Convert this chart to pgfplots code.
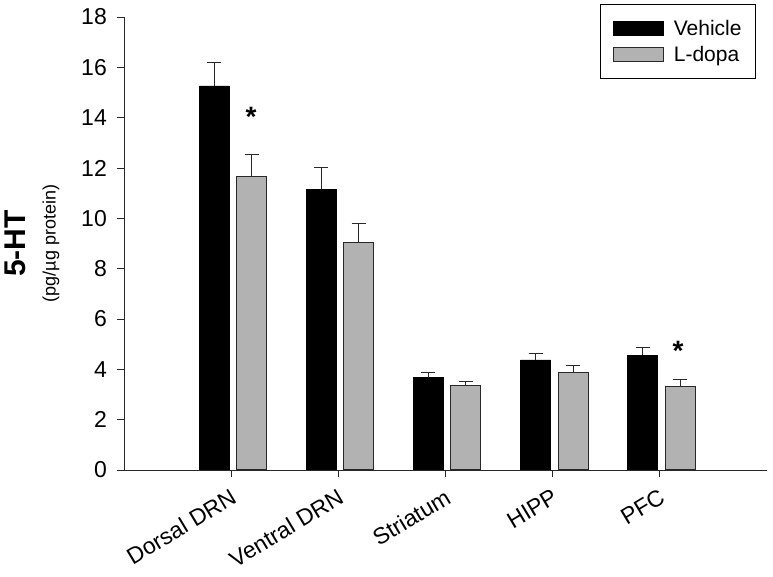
\documentclass[border=0pt]{standalone}
\usepackage{pgfplots}
\pgfplotsset{compat=1.18}
\usepackage{fontspec}
\setmainfont{Liberation Sans}
\definecolor{barg}{RGB}{178,178,178}
\definecolor{axc}{RGB}{40,40,40}
\begin{document}
\begin{tikzpicture}
\begin{axis}[
  scale only axis, width=643pt, height=453pt,
  xmin=-1, xmax=5, ymin=0, ymax=18,
  axis x line*=bottom, axis y line*=left,
  xtick={0,1,2,3,4},
  xticklabels={Dorsal DRN, Ventral DRN, Striatum, HIPP, PFC},
  ytick={0,2,...,18},
  tick align=outside, major tick length=7pt,
  /pgf/number format/assume math mode=true,
  x tick label style={xshift=-1pt, yshift=-8pt, rotate=31, anchor=north east, font=\fontsize{23}{26}\selectfont, inner sep=2pt},
  y tick label style={font=\fontsize{23}{26}\selectfont, inner sep=2pt},
  yticklabel shift=8pt,
  tick style={axc, line width=0.9pt},
  axis line style={axc, line width=0.9pt},
  ylabel={{\fontsize{30}{32}\selectfont\bfseries 5-HT}\\[16pt]{\fontsize{18}{20}\selectfont (pg/µg protein)}},
  ylabel style={align=center, at={([xshift=-92pt]axis description cs:0,0.5)}, anchor=center},
  legend style={at={(0.983,1.029)}, anchor=north east, draw=black, line width=1pt,
    font=\fontsize{21}{24}\selectfont, cells={anchor=west}, inner xsep=12pt, inner ysep=14pt,
    row sep=5pt, column sep=8pt},
  legend image code/.code={\draw[#1, line width=1pt] (0pt,-7pt) rectangle (50pt,7pt);},
  error bars/y dir=plus, error bars/y explicit,
  error bars/error bar style={axc, line width=1pt},
  error bars/error mark options={rotate=90, mark size=7pt, line width=1pt, axc},
]
\addplot[ybar, bar width=30pt, bar shift=0pt, fill=black, draw=black] coordinates {
  (-0.16,15.26) +- (0,0.92)
  (0.84,11.16) +- (0,0.87)
  (1.84,3.67) +- (0,0.20)
  (2.84,4.38) +- (0,0.23)
  (3.84,4.56) +- (0,0.30)
};
\addlegendentry{Vehicle}
\addplot[ybar, bar width=30pt, bar shift=0pt, fill=barg, draw=axc, line width=1pt] coordinates {
  (0.19,11.68) +- (0,0.87)
  (1.19,9.03) +- (0,0.78)
  (2.19,3.35) +- (0,0.16)
  (3.19,3.87) +- (0,0.27)
  (4.19,3.31) +- (0,0.29)
};
\addlegendentry{L-dopa}
\node[anchor=base] at (axis cs:0.186,13.63) {\fontsize{28}{30}\selectfont\bfseries *};
\node[anchor=base] at (axis cs:4.17,4.37) {\fontsize{28}{30}\selectfont\bfseries *};
\coordinate (O) at (rel axis cs:0,0);
\end{axis}
\pgfresetboundingbox
\path[use as bounding box] ([shift={(-124pt,-107pt)}]O) rectangle ([shift={(649pt,470pt)}]O);
\end{tikzpicture}
\end{document}
